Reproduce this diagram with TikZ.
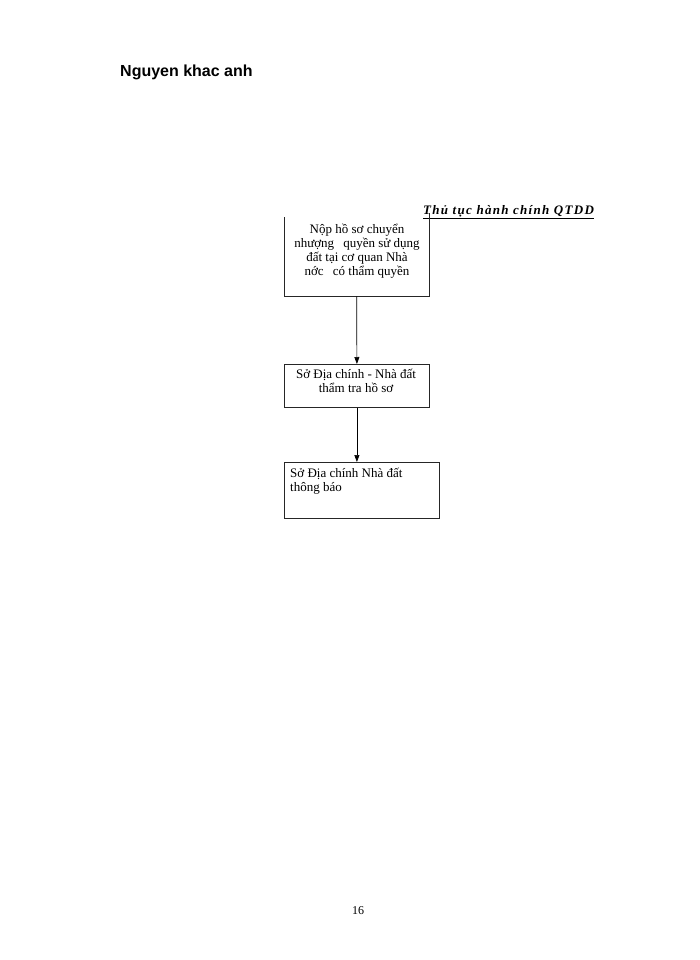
\documentclass[tikz,border=0pt]{standalone}
\usepackage{fontspec}
\setmainfont{Liberation Serif}
\newfontfamily\titlefont{Liberation Sans}
\newfontfamily\hdrfont[LetterSpace=10]{Liberation Serif}
\usetikzlibrary{arrows.meta}
\begin{document}
\begin{tikzpicture}[x=1pt,y=-1pt,
  boxline/.style={line width=0.8pt,draw=black!85},
  boxtext/.style={font=\fontsize{13}{14}\selectfont,inner sep=0pt},
  flowarrow/.style={line width=0.7pt,-{Triangle[width=5pt,length=7pt]}}]
\useasboundingbox[fill=white] (0,0) rectangle (700,960);
% title
\node[anchor=base west,inner sep=0pt,font=\titlefont\bfseries\fontsize{16}{19}\selectfont] (title) at (120,77) {Nguyen khac anh};
% header
\node[anchor=base west,inner sep=0pt,font=\hdrfont\bfseries\itshape\fontsize{13}{14}\selectfont] (hdr) at (423,214) {\underline{Thủ tục hành chính QTDD}\hspace{2pt}};
% box 1 (open top)
\node[boxtext,minimum width=145pt,minimum height=79pt,anchor=north west] (b1) at (284,217) {};
\draw[boxline] (b1.north west) -- (b1.south west) -- (b1.south east) -- ([yshift=4pt]b1.north east);
\node[boxtext,align=center,anchor=north] (t1) at (357,224) {Nộp hồ sơ chuyển\\nhượng\hspace{0.7em}quyền sử dụng\\đất tại cơ quan Nhà\\nớc\hspace{0.7em}có thẩm quyền};
% box 2
\node[boxtext,boxline,draw,minimum width=145pt,minimum height=43pt,anchor=north west] (b2) at (284,364) {};
\node[boxtext,align=center,anchor=north] (t2) at (356,369) {Sở Địa chính - Nhà đất\\thẩm tra hồ sơ};
% box 3
\node[boxtext,boxline,draw,minimum width=155pt,minimum height=56pt,anchor=north west] (b3) at (284,462) {};
\node[boxtext,align=left,anchor=north west] (t3) at (290,468) {Sở Địa chính Nhà đất\\thông báo};
% arrows
\draw[flowarrow] (b1.south) -- (b2.north);
\draw[flowarrow] (b2.south) -- (b3.north west -| b2.south);
% page number
\node[anchor=base,inner sep=0pt,font=\fontsize{12}{14}\selectfont] (pg) at (358,914) {16};
\end{tikzpicture}
\end{document}
